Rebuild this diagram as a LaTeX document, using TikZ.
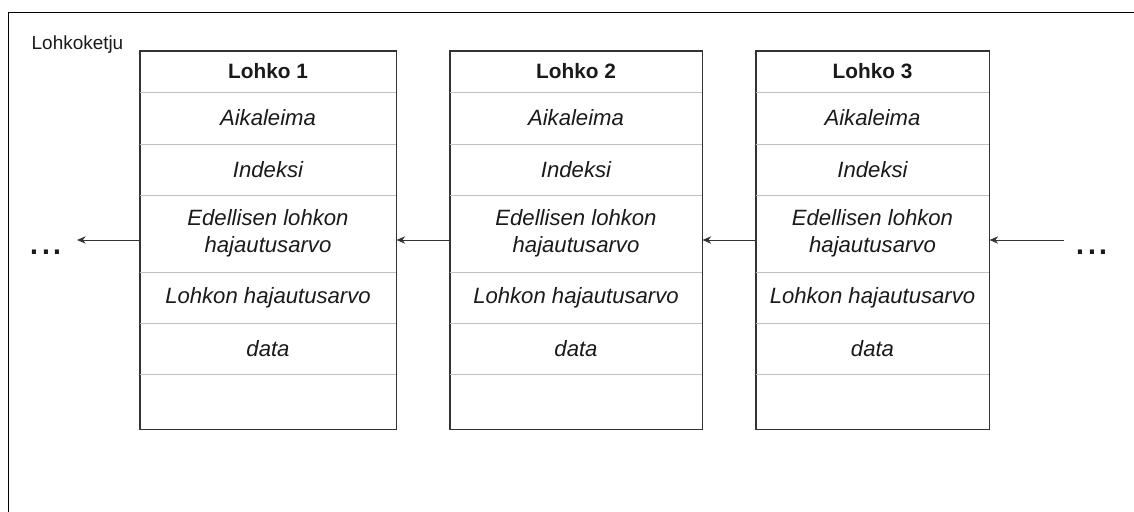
\documentclass[tikz,border=0pt]{standalone}
\usepackage{fontspec}
\setmainfont{Liberation Sans}
\usetikzlibrary{arrows.meta,positioning}
\definecolor{rowline}{HTML}{C0C0C0}
\definecolor{boxline}{HTML}{333333}
\definecolor{txtcolor}{HTML}{1A1A1A}

\begin{document}
\begin{tikzpicture}[
  x=0.75pt, y=-0.75pt,
  block/.style={draw=boxline, line width=0.75pt, minimum height=283.5pt, inner sep=0pt},
  title/.style={font=\bfseries\fontsize{15.6}{18}\selectfont, text=txtcolor},
  field/.style={font=\itshape\fontsize{16.6}{20}\selectfont, text=txtcolor, align=center},
  sep/.style={draw=rowline, line width=0.75pt},
  arr/.style={-{Stealth[length=6.5pt, width=5.5pt]}, line width=0.75pt, draw=boxline},
  dots/.style={font=\fontsize{32}{32}\selectfont, text=txtcolor, inner sep=0pt},
  node distance=39.75pt
]
  \useasboundingbox (0,0) rectangle (1134,511);
  \draw[line width=0.75pt] (8,12) rectangle (1160,530);
  \node[anchor=west, font=\fontsize{14.2}{16}\selectfont, text=txtcolor] (chain) at (27,45) {Lohkoketju};

  \node[block, minimum width=192pt] (b1) at (268,240) {};
  \node[block, minimum width=189pt, right=of b1] (b2) {};
  \node[block, minimum width=174.75pt, right=of b2] (b3) {};

  \foreach \i in {1,2,3} {
    \foreach \y in {92,144,195,272,323,374}
      \draw[sep] (b\i.west |- 0,\y) -- (b\i.east |- 0,\y);
    \draw[boxline, line width=0.75pt] (b\i.north west) rectangle (b\i.south east);
    \node[title] (t\i) at (b\i.center |- 0,71.5) {Lohko \i};
    \node[field] (ts\i) at (b\i.center |- 0,118) {Aikaleima};
    \node[field] (ix\i) at (b\i.center |- 0,169.5) {Indeksi};
    \node[field] (ph\i) at (b\i.center |- 0,233.5) {Edellisen lohkon\\hajautusarvo};
    \node[field] (h\i) at (b\i.center |- 0,297.5) {Lohkon hajautusarvo};
    \node[field] (d\i) at (b\i.center |- 0,348.5) {data};
  }

  \coordinate (lend) at (77,240);
  \coordinate (rstart) at (1064,240);
  \draw[arr] (b1.west) -- (lend);
  \draw[arr] (b2.west) -- (b1.east);
  \draw[arr] (b3.west) -- (b2.east);
  \draw[arr] (rstart) -- (b3.east);

  \node[dots] (ldots) at (46,252) {...};
  \node[dots] (rdots) at (1092,252) {...};
\end{tikzpicture}
\end{document}
